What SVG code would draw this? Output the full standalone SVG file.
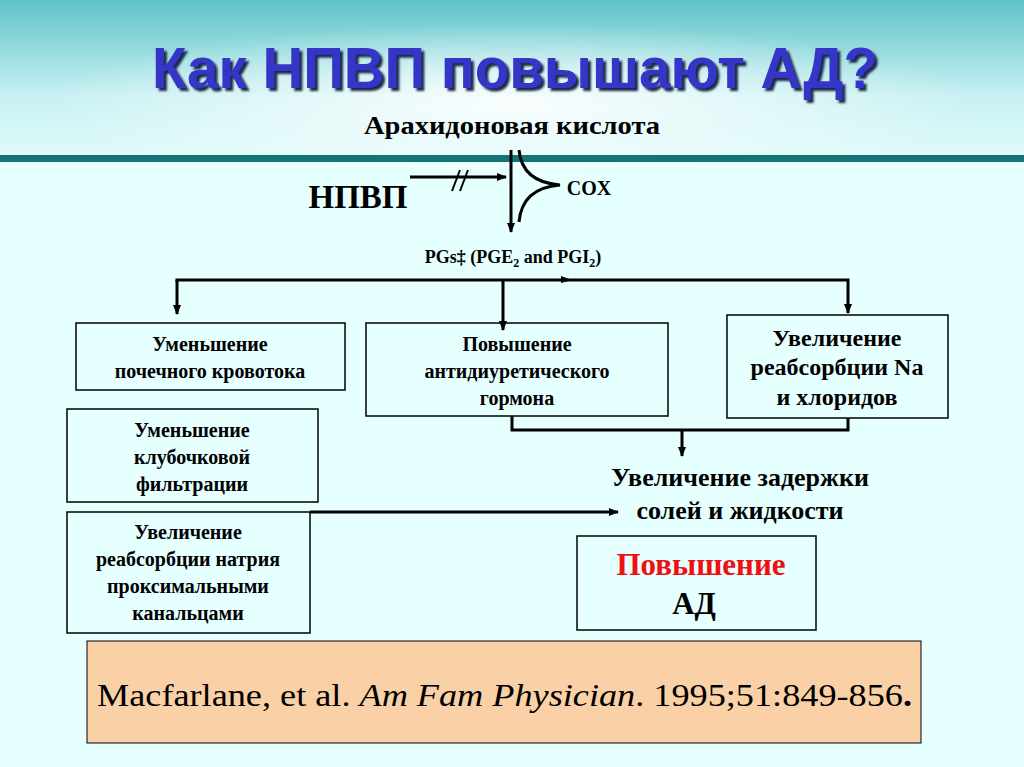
<svg xmlns="http://www.w3.org/2000/svg" width="1024" height="767" viewBox="0 0 1024 767">
<defs>
<linearGradient id="hdr" x1="0" y1="0" x2="0" y2="1">
<stop offset="0" stop-color="#5fc4c8"/><stop offset="0.6" stop-color="#c6f0f2"/><stop offset="1" stop-color="#e2fbfb"/>
</linearGradient>
<radialGradient id="glow" cx="0.5" cy="0.55" r="0.5">
<stop offset="0" stop-color="#ffffff" stop-opacity="0.9"/><stop offset="1" stop-color="#ffffff" stop-opacity="0"/>
</radialGradient>
<filter id="sh" x="-5%" y="-20%" width="110%" height="150%"><feDropShadow dx="3" dy="3" stdDeviation="0.8" flood-color="#1a2a4a"/></filter>
<marker id="ah" markerWidth="10" markerHeight="10" refX="9" refY="5" orient="auto" markerUnits="userSpaceOnUse">
<path d="M0,1 L10,5 L0,9 z" fill="#000"/>
</marker>
<style>
.ln{stroke:#000;stroke-width:3;fill:none}
.bx{fill:#e6ffff;stroke:#000;stroke-width:1.5}
.t{font-family:"Liberation Serif",serif;font-weight:bold;fill:#000;text-anchor:middle}
.s{font-size:20px}
</style>
</defs>
<rect width="1024" height="767" fill="#e6ffff"/>
<rect width="1024" height="157" fill="url(#hdr)"/>
<ellipse cx="512" cy="95" rx="470" ry="80" fill="url(#glow)"/>
<rect y="155" width="1024" height="7" fill="#137575"/>
<text x="152" y="88" font-family="Liberation Sans,Arial,sans-serif" font-weight="bold" font-size="58" textLength="726" lengthAdjust="spacingAndGlyphs" fill="#3535c8" filter="url(#sh)">Как НПВП повышают АД?</text>
<g id="arach"><text class="t" x="512" y="134" font-size="26" textLength="296" lengthAdjust="spacingAndGlyphs">Арахидоновая кислота</text></g>
<g id="npvp"><text class="t" x="358" y="208" font-size="33">НПВП</text></g>
<g id="cox"><path class="ln" d="M519,150 Q522,182 560,185 Q522,188 519,222"/><text class="t" x="589" y="195" font-size="20">COX</text></g>
<g id="pgs"><text class="t" x="513" y="263" font-size="18">PGs‡ (PGE<tspan font-size="12" dy="4">2</tspan><tspan dy="-4"> and PGI</tspan><tspan font-size="12" dy="4">2</tspan><tspan dy="-4">)</tspan></text></g>
<g id="n1"><rect class="bx" x="76" y="323" width="269" height="67"/><text class="t s" x="210" y="351">Уменьшение</text><text class="t s" x="210" y="378">почечного кровотока</text></g>
<g id="n2"><rect class="bx" x="366" y="323" width="302" height="93"/><text class="t s" x="517" y="351">Повышение</text><text class="t s" x="517" y="378">антидиуретического</text><text class="t s" x="517" y="405">гормона</text></g>
<g id="n3"><rect class="bx" x="727" y="315" width="221" height="103"/><text class="t" x="837" y="346" font-size="24">Увеличение</text><text class="t" x="837" y="375" font-size="24">реабсорбции Na</text><text class="t" x="837" y="405" font-size="24">и хлоридов</text></g>
<g id="n4"><rect class="bx" x="67" y="409" width="251" height="93"/><text class="t s" x="192" y="437">Уменьшение</text><text class="t s" x="192" y="464">клубочковой</text><text class="t s" x="192" y="491">фильтрации</text></g>
<g id="n5"><rect class="bx" x="67" y="512" width="243" height="121"/><text class="t s" x="188" y="539">Увеличение</text><text class="t s" x="188" y="566">реабсорбции натрия</text><text class="t s" x="188" y="593">проксимальными</text><text class="t s" x="188" y="620">канальцами</text></g>
<g id="n6"><text class="t" x="740" y="486" font-size="26">Увеличение задержки</text><text class="t" x="740" y="519" font-size="26">солей и жидкости</text></g>
<g id="n7"><rect class="bx" x="577" y="536" width="239" height="94"/><text class="t" x="701" y="575" font-size="31" style="fill:#ee1111">Повышение</text><text class="t" x="694" y="614" font-size="31">АД</text></g>
<g id="cite"><rect x="87" y="641" width="834" height="102" fill="#fad1a6" stroke="#000" stroke-width="1"/>
<text x="97" y="706" font-family="Liberation Serif,serif" font-size="31" fill="#000" textLength="815" lengthAdjust="spacingAndGlyphs">Macfarlane, et al.  <tspan font-style="italic">Am Fam Physician</tspan>. 1995;51:849-856<tspan font-weight="bold">.</tspan></text></g>
<g id="connectors">
<line class="ln" x1="511" y1="150" x2="511" y2="232" marker-end="url(#ah)"/>
<line class="ln" x1="410" y1="177" x2="506" y2="177" marker-end="url(#ah)"/>
<line stroke="#000" stroke-width="2" x1="452" y1="191" x2="460" y2="170"/>
<line stroke="#000" stroke-width="2" x1="460" y1="191" x2="468" y2="170"/>
<polyline class="ln" points="177,282 177,280 848,280 848,313" marker-end="url(#ah)"/>
<line class="ln" x1="177" y1="280" x2="177" y2="314" marker-end="url(#ah)"/>
<path d="M561,276 L572,280 L561,283 z" fill="#000"/>
<line class="ln" x1="503" y1="280" x2="503" y2="330" marker-end="url(#ah)"/>
<polyline class="ln" points="512,416 512,430 848,430 848,418"/>
<line class="ln" x1="682" y1="430" x2="682" y2="456" marker-end="url(#ah)"/>
<line class="ln" x1="310" y1="512" x2="618" y2="512" marker-end="url(#ah)"/>
</g>
</svg>
